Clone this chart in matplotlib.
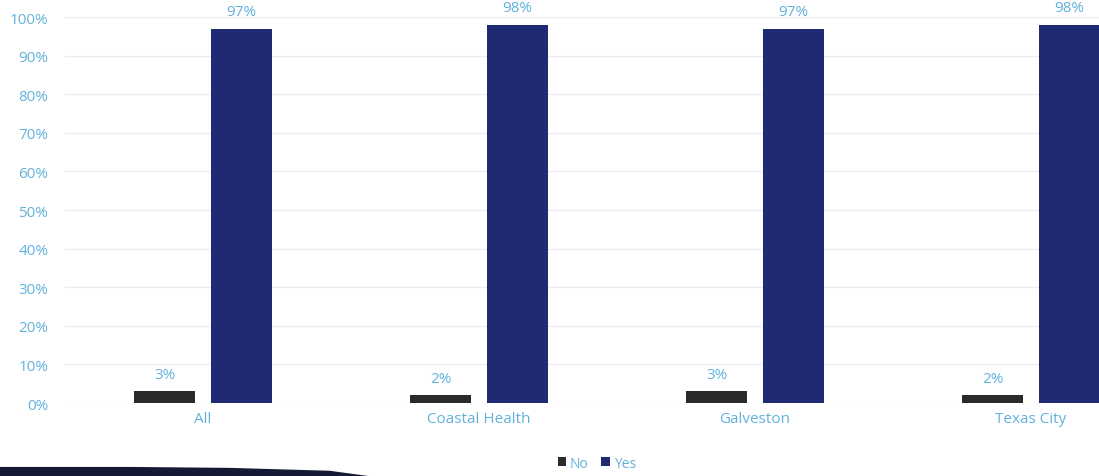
import numpy as np
import matplotlib.pyplot as plt
from matplotlib.patches import Polygon

# survey answers by site, percent of respondents
sites = ["All", "Coastal Health", "Galveston", "Texas City"]
no_pct = [3, 2, 3, 2]
yes_pct = [97, 98, 97, 98]

TXT = "#62b2dc"
NAVY = "#1f2a72"
DARK = "#2b2a2b"

plt.rcParams["font.family"] = ["Open Sans", "DejaVu Sans"]

fig = plt.figure(figsize=(10.99, 4.77), dpi=100)
ax = fig.add_axes([0.059, 0.153, 0.941, 0.809])

x = np.arange(len(sites))
w = 0.222
off = 0.139
b_no = ax.bar(x - off, no_pct, w, color=DARK, label="No", zorder=3)
b_yes = ax.bar(x + off, yes_pct, w, color=NAVY, label="Yes", zorder=3)

for bars, vals in [(b_no, no_pct), (b_yes, yes_pct)]:
    for b, v in zip(bars, vals):
        ax.annotate(f"{v}%", (b.get_x() + b.get_width() / 2, v),
                    xytext=(0, 7), textcoords="offset points",
                    ha="center", va="bottom", color=TXT, fontsize=11)

ax.set_xlim(-0.5, 3.246)
ax.set_ylim(0, 100)
ax.set_yticks(range(0, 101, 10))
ax.set_yticklabels([f"{t}%" for t in range(0, 101, 10)])
ax.set_xticks(x)
ax.set_xticklabels(sites)
ax.tick_params(colors=TXT, labelsize=11, length=0)
ax.tick_params(axis="y", pad=12)
ax.tick_params(axis="x", pad=6)
ax.grid(axis="y", color="#e8ecf2", lw=0.9, zorder=0)
for s in ax.spines.values():
    s.set_visible(False)

leg = fig.legend(loc="center", bbox_to_anchor=(0.543, 0.027), ncol=2, frameon=False,
                 fontsize=10, handlelength=0.6, handleheight=0.6, handletextpad=0.3,
                 columnspacing=0.9)
for t in leg.get_texts():
    t.set_color(TXT)

# dark swoosh along the bottom-left edge
fig.patches.append(Polygon([(0, 0), (0, 0.019), (0.12, 0.019), (0.21, 0.017),
                            (0.30, 0.011), (0.335, 0.0)],
                           closed=True, transform=fig.transFigure,
                           facecolor="#141a33", edgecolor="none"))

fig.savefig("out.png", dpi=100)
